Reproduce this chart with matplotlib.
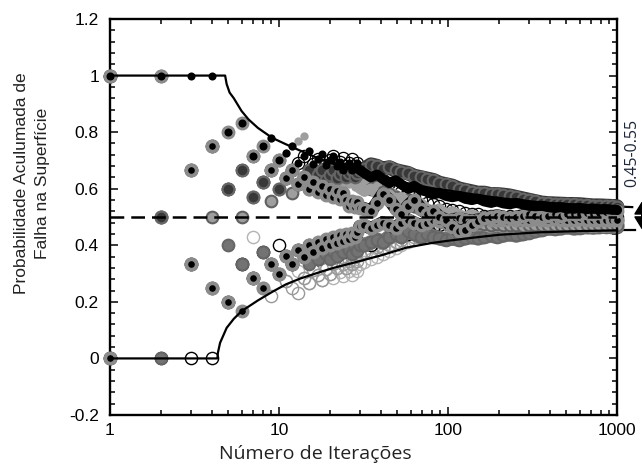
import numpy as np
import matplotlib
matplotlib.use("Agg")
import matplotlib.pyplot as plt
from matplotlib.ticker import FixedLocator, MultipleLocator, LogLocator, NullFormatter
import matplotlib.transforms as mtransforms

plt.rcParams['font.family'] = ['Liberation Sans', 'DejaVu Sans']

# ---------------- data ----------------
# iterations 1..30 : cumulative number of failures per run
N_EARLY = list(range(1, 31))
K_S1 = [1, 2, 3, 4, 4, 5, 5, 6, 7, 7, 8, 9, 9, 10, 11, 11, 12, 13, 13, 14, 15, 15, 16, 16, 17, 18, 18, 19, 20, 20]
K_S2 = [1, 2, 2, 3, 4, 5, 5, 6, 6, 7, 7, 8, 8, 9, 9, 10, 10, 11, 11, 12, 12, 13, 13, 14, 14, 14, 15, 15, 16, 16]
K_S3 = [0, 1, 1, 1, 1, 1, 2, 2, 3, 3, 4, 4, 5, 5, 6, 6, 7, 7, 8, 8, 9, 9, 10, 10, 11, 11, 12, 12, 13, 14]
K_S4 = [0, 0, 0, 0, 1, 2, 2, 3, 3, 4, 4, 4, 5, 5, 6, 6, 6, 7, 7, 8, 8, 8, 9, 9, 10, 10, 11, 11, 12, 12]
K_S5 = [0, 1, 1, 1, 1, 2, 2, 2, 2, 3, 3, 3, 3, 4, 4, 5, 5, 5, 6, 6, 7, 7, 8, 8, 8, 9, 9, 10, 10, 11]
K_S6 = [1, 1, 1, 2, 3, 3, 4, 5, 5, 6, 7, 7, 8, 9, 9, 10, 11, 11, 12, 13, 13, 14, 15, 15, 16, 17, 17, 18, 18, 19]
K_S7 = [1, 1, 2, 3, 3, 4, 5, 6, 7, 7, 8, 9, 10, 11, 11, 11, 12, 12, 13, 13, 14, 14, 15, 15, 16, 16, 17, 17, 18, 18]
K_S8 = [1, 1, 2, 3, 3, 4, 4, 5, 6, 6, 7, 8, 8, 9, 10, 10, 11, 12, 12, 13, 14, 14, 15, 16, 16, 17, 18, 18, 19, 20]
K_S9 = [0, 0, 1, 1, 2, 2, 2, 3, 3, 3, 4, 4, 5, 5, 5, 6, 6, 7, 7, 7, 8, 8, 9, 9, 10, 10, 10, 11, 11, 12]
K_S10 = [1, 1, 1, 1, 2, 2, 3, 3, 3, 3, 3, 4, 4, 4, 4, 5, 5, 5, 6, 6, 6, 7, 7, 7, 8, 8, 8, 9, 9, 10]
K_S11 = [1, 2, 2, 3, 3, 4, 5, 5, 6, 7, 7, 8, 9, 10, 10, 11, 12, 12, 13, 14, 15, 15, 16, 17, 17, 18, 19, 19, 20, 20]

# later iterations : running probability per run
N_LATE = [32, 35, 38, 41, 45, 49, 53, 58, 63, 69, 75, 82, 89, 97, 106, 116, 126, 138, 150, 164,
          179, 195, 213, 232, 253, 276, 301, 329, 359, 391, 427, 466, 508, 554, 605, 660, 720, 785,
          857, 935, 1000]
P_S1 = [.655, .64, .65, .635, .62, .63, .615, .60, .61, .595, .59, .58, .585, .575, .57, .575, .565, .56, .565, .555,
        .55, .555, .548, .545, .55, .545, .54, .538, .54, .535, .532, .535, .53, .53, .532, .528, .53, .527, .528, .526, .525]
P_S2 = [.53, .52, .55, .58, .56, .53, .51, .54, .56, .53, .51, .52, .50, .49, .465, .45, .455, .47, .485, .495,
        .50, .505, .50, .495, .50, .505, .51, .505, .50, .505, .51, .505, .51, .512, .51, .515, .512, .515, .518, .52, .52]
P_S3 = [.47, .46, .47, .48, .47, .46, .48, .49, .48, .47, .48, .49, .485, .48, .49, .495, .49, .485, .49, .495,
        .49, .488, .49, .492, .49, .488, .49, .492, .49, .49, .492, .49, .49, .49, .492, .49, .49, .49, .49, .49, .49]
P_S4 = [.406, .40, .42, .41, .43, .44, .45, .44, .46, .45, .47, .46, .47, .48, .475, .48, .485, .48, .49, .485,
        .49, .488, .49, .49, .492, .49, .49, .492, .49, .49, .49, .492, .49, .49, .49, .49, .49, .49, .49, .49, .49]
P_S5 = [.375, .38, .395, .39, .40, .41, .42, .415, .43, .44, .435, .45, .455, .46, .465, .46, .47, .465, .47, .475,
        .47, .475, .48, .475, .48, .48, .48, .482, .48, .48, .482, .48, .48, .48, .482, .48, .48, .48, .48, .48, .48]
P_S6 = [.62, .60, .61, .59, .58, .57, .55, .56, .54, .53, .52, .51, .50, .495, .50, .49, .48, .485, .48, .475,
        .47, .475, .47, .472, .47, .468, .47, .472, .47, .47, .472, .47, .47, .472, .47, .472, .47, .472, .47, .472, .47]
P_S7 = [.59, .60, .58, .57, .58, .56, .57, .55, .54, .55, .53, .52, .53, .51, .52, .51, .50, .51, .50, .50,
        .495, .50, .498, .495, .50, .498, .495, .497, .50, .498, .497, .498, .50, .498, .497, .498, .498, .497, .498, .497, .498]
P_S8 = [.67, .685, .68, .67, .675, .665, .66, .655, .645, .64, .635, .63, .62, .615, .61, .60, .595, .59, .585, .585,
        .58, .58, .578, .575, .57, .565, .56, .555, .55, .548, .547, .546, .545, .545, .544, .542, .54, .54, .539, .538, .537]
P_S9 = [.40, .41, .42, .41, .43, .44, .43, .45, .44, .43, .44, .43, .425, .42, .425, .42, .425, .43, .425, .43,
        .435, .43, .435, .44, .435, .44, .445, .45, .455, .46, .458, .46, .465, .46, .462, .465, .463, .465, .466, .465, .466]
P_S10 = [.34, .35, .36, .37, .38, .39, .40, .41, .42, .425, .43, .44, .445, .45, .455, .46, .46, .465, .47, .47,
         .47, .475, .475, .47, .475, .478, .475, .478, .48, .478, .48, .478, .48, .48, .478, .48, .48, .48, .48, .48, .48]
P_S11 = [.66, .65, .64, .63, .62, .60, .59, .58, .57, .56, .55, .545, .54, .53, .525, .52, .515, .51, .51, .505,
         .505, .50, .50, .502, .50, .50, .502, .50, .50, .50, .502, .50, .50, .50, .50, .50, .50, .50, .50, .50, .50]

# envelope curves
UPPER_N = [1, 4.8, 4.9, 5.1, 5.4, 6.0, 6.6, 7.5, 9.1, 11, 13.3, 17, 21, 30, 40, 57, 80, 100, 141, 200, 350, 600, 1000]
UPPER_P = [1, 1, .97, .94, .92, .875, .845, .815, .78, .757, .735, .708, .688, .665, .643, .62, .602, .594, .58, .567, .552, .543, .537]
LOWER_N = [1, 4.32, 4.35, 4.48, 4.9, 5.4, 6.0, 7.5, 9.1, 11, 13.3, 17, 21, 30, 40, 57, 80, 100, 141, 200, 350, 600, 1000]
LOWER_P = [0, 0, .02, .055, .108, .14, .167, .205, .235, .262, .282, .303, .32, .344, .364, .392, .408, .416, .427, .437, .446, .45, .453]
TARGET = 0.5

# ---------------- styles (drawing order) ----------------
styles = {
    'S10': dict(ms=8.8, mfc='none', mec='0.7', mew=1.0),
    'S5': dict(ms=8.8, mfc='none', mec='0.6', mew=1.0),
    'S11': dict(ms=8.8, mfc='none', mec='k', mew=0.9),
    'S4': dict(ms=8.8, mfc='none', mec='k', mew=1.0),
    'S9': dict(ms=8.4, mfc='0.45', mec='0.40', mew=1.4),
    'S6': dict(ms=8.4, mfc='0.62', mec='0.38', mew=1.5),
    'S7': dict(ms=6.0, mfc='0.62', mec='0.62', mew=0),
    'S3': dict(ms=7.4, mfc='k', mec='0.55', mew=2.6),
    'S8': dict(ms=8.4, mfc='0.22', mec='0.40', mew=1.5),
    'S2': dict(ms=7.4, mfc='k', mec='0.55', mew=2.6),
    'S1': dict(ms=5.8, mfc='k', mec='k', mew=0),
}
series = {
    'S1': (K_S1, P_S1), 'S2': (K_S2, P_S2), 'S3': (K_S3, P_S3),
    'S4': (K_S4, P_S4), 'S5': (K_S5, P_S5), 'S6': (K_S6, P_S6),
    'S7': (K_S7, P_S7), 'S8': (K_S8, P_S8), 'S9': (K_S9, P_S9),
    'S10': (K_S10, P_S10), 'S11': (K_S11, P_S11),
}

fig = plt.figure(figsize=(6.42, 4.66), dpi=100)
ax = fig.add_axes([110/642, 51/466, 507/642, 396/466])

for z, name in enumerate(styles):
    k, p_late = series[name]
    st = styles[name]
    n_all = N_EARLY + N_LATE
    p_all = list(np.array(k) / np.array(N_EARLY)) + p_late
    if st['mfc'] != 'none':
        # runs are dense at high iteration counts: join the late points into a band
        ax.plot([N_EARLY[-1]] + N_LATE, [p_all[29]] + p_late, color=st['mfc'],
                lw=st['ms'] * 1.25, solid_capstyle='round', solid_joinstyle='round',
                zorder=2 + z * 0.1, clip_on=False)
    ax.plot(n_all, p_all, ls='none', marker='o', clip_on=False, zorder=2 + z * 0.1, **st)

ax.plot(UPPER_N, UPPER_P, color='k', lw=1.6, zorder=4, clip_on=False)
ax.plot(LOWER_N, LOWER_P, color='k', lw=1.6, zorder=4, clip_on=False)
ax.plot([1, 1000], [TARGET, TARGET], color='k', lw=1.8, ls=(0, (5.5, 2.8)), zorder=4)

# bracket on the right: 0.45 - 0.55
trans = mtransforms.blended_transform_factory(ax.transAxes, ax.transData)
ax.plot([1.0, 1.03], [UPPER_P[-1], UPPER_P[-1] - .002], color='k', lw=1.6, transform=trans, clip_on=False)
ax.plot([1.0, 1.036], [LOWER_P[-1], LOWER_P[-1]], color='k', lw=1.6, transform=trans, clip_on=False)
ax.annotate('', xy=(1.049, 0.456), xytext=(1.049, 0.555), xycoords=trans, textcoords=trans,
            arrowprops=dict(arrowstyle='<|-|>,head_length=0.65,head_width=0.4', color='k',
                            lw=1.2, mutation_scale=12, shrinkA=0, shrinkB=0), annotation_clip=False)
ax.text(1.031, 0.728, '0.45-0.55', transform=trans, rotation=90, ha='center', va='center',
        fontsize=11.5, family=['Open Sans', 'DejaVu Sans'], color='#1e2636', clip_on=False)

# axes
ax.set_xscale('log')
ax.set_xlim(1, 1000)
ax.set_ylim(-0.2, 1.2)
ax.set_xticks([1, 10, 100, 1000])
ax.set_xticklabels(['1', '10', '100', '1000'])
ax.xaxis.set_minor_locator(LogLocator(base=10, subs=np.arange(2, 10)))
ax.xaxis.set_minor_formatter(NullFormatter())
ax.yaxis.set_major_locator(FixedLocator([-0.2, 0, 0.2, 0.4, 0.6, 0.8, 1.0, 1.2]))
ax.set_yticklabels(['-0.2', '0', '0.2', '0.4', '0.6', '0.8', '1', '1.2'])
ax.yaxis.set_minor_locator(MultipleLocator(0.04))
ax.tick_params(which='both', direction='in', top=True, right=True, width=1.1, labelsize=12.5)
ax.tick_params(which='major', length=6)
ax.tick_params(which='minor', length=3.5)
ax.tick_params(axis='y', pad=8)
ax.tick_params(axis='x', pad=6)
for s in ax.spines.values():
    s.set_linewidth(1.7)

ax.set_xlabel('Número de Iterações', fontsize=14, family=['Open Sans', 'DejaVu Sans'], color='#222222')
ax.xaxis.label.set_va('center')
ax.xaxis.set_label_coords(0.404, -0.098)
ax.set_ylabel('Probabilidade Aculumada de\nFalha na Superfície', fontsize=12.5,
              family=['Liberation Sans', 'DejaVu Sans'], color='#222222', linespacing=1.45)
ax.yaxis.label.set_va('center')
ax.yaxis.set_label_coords(-0.154, 0.585)

fig.savefig('out.png', dpi=100)
